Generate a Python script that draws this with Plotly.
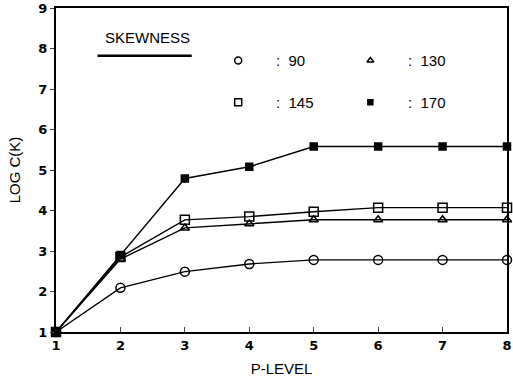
import plotly.graph_objects as go

p_level = [1, 2, 3, 4, 5, 6, 7, 8]
skew_labels = ["90", "130", "145", "170"]
log_ck_90 = [1.0, 2.09, 2.49, 2.68, 2.78, 2.78, 2.78, 2.78]
log_ck_130 = [1.0, 2.8, 3.57, 3.67, 3.77, 3.77, 3.77, 3.77]
log_ck_145 = [1.0, 2.85, 3.77, 3.85, 3.97, 4.07, 4.07, 4.07]
log_ck_170 = [1.0, 2.9, 4.79, 5.08, 5.58, 5.58, 5.58, 5.58]
y_ticks = [1, 2, 3, 4, 5, 6, 7, 8, 9]

series = [
    (log_ck_90, "circle-open", 9),
    (log_ck_130, "triangle-up-open", 8),
    (log_ck_145, "square-open", 9),
    (log_ck_170, "square-x", 7),
]

fig = go.Figure()
for (vals, sym, sz), lab in zip(series, skew_labels):
    fig.add_trace(go.Scatter(
        x=p_level, y=vals, mode="lines+markers", name=lab,
        line=dict(color="black", width=1.4),
        marker=dict(symbol=sym, size=sz, color="black",
                    line=dict(color="black", width=1.5)),
        showlegend=False, cliponaxis=False,
    ))

# legend drawn as paper-positioned markers and labels
leg_pos = [(0.404, 0.838), (0.697, 0.838), (0.404, 0.709), (0.697, 0.709)]
for (px, py), (vals, sym, sz), lab in zip(leg_pos, series, skew_labels):
    fig.add_trace(go.Scatter(
        x=[px], y=[py], xaxis="x2", yaxis="y2", mode="markers",
        marker=dict(symbol=sym, size=sz - 2, color="black",
                    line=dict(color="black", width=1.5)),
        showlegend=False, hoverinfo="skip",
    ))
    fig.add_annotation(x=px + 0.08, y=py, xref="paper", yref="paper",
                       text=":  " + lab, showarrow=False, xanchor="left", yanchor="middle",
                       font=dict(size=15, color="black", family="Liberation Sans"))

fig.add_annotation(x=0.202, y=0.908, xref="paper", yref="paper", text="SKEWNESS",
                   showarrow=False, xanchor="center", yanchor="middle",
                   font=dict(size=15, family="Liberation Sans Narrow, Liberation Sans", color="black"))
fig.add_shape(type="line", xref="paper", yref="paper", x0=0.092, x1=0.301, y0=0.853, y1=0.853,
              line=dict(color="black", width=2.5))

tick_font = dict(size=13, family="DejaVu Sans", weight="bold", color="black")
fig.update_layout(
    width=513, height=387,
    margin=dict(l=56, r=6, t=8, b=55),
    plot_bgcolor="white", paper_bgcolor="white",
    font=dict(family="DejaVu Sans", color="black"),
    xaxis=dict(range=[1, 8], tickvals=p_level, ticks="inside", ticklen=5,
               tickfont=tick_font, ticklabeloverflow="allow", automargin=False,
               showgrid=False, zeroline=False, showline=True, linecolor="black",
               linewidth=2, mirror=True,
               title=dict(text="P-LEVEL", font=dict(size=15, family="Liberation Sans"), standoff=12)),
    yaxis=dict(range=[1, 9], tickvals=y_ticks, ticks="outside", ticklen=4,
               tickfont=tick_font, ticklabeloverflow="allow", automargin=False,
               showgrid=False, zeroline=False, showline=True, linecolor="black",
               linewidth=2, mirror=True,
               title=dict(text="LOG C(K)", font=dict(size=15, family="Liberation Sans"), standoff=14)),
    xaxis2=dict(range=[0, 1], visible=False, overlaying="x"),
    yaxis2=dict(range=[0, 1], visible=False, overlaying="y"),
)
fig.write_html("out.html")
